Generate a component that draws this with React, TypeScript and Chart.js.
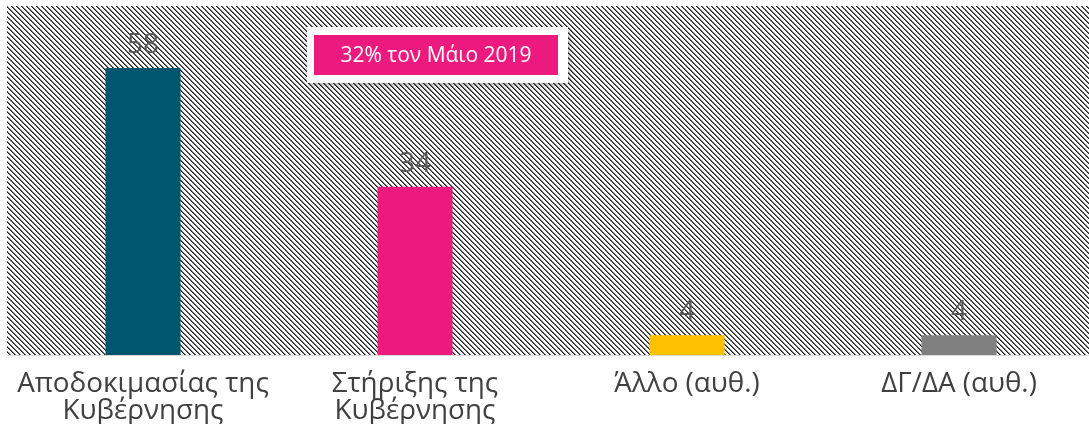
import React, { useEffect, useRef } from "react";
import { Chart, registerables } from "chart.js";

Chart.register(...registerables);

const categories: (string | string[])[] = [
  ["Αποδοκιμασίας της", "Κυβέρνησης"],
  ["Στήριξης της", "Κυβέρνησης"],
  "Άλλο (αυθ.)",
  "ΔΓ/ΔΑ (αυθ.)",
];
const values = [58, 34, 4, 4];
const barColors = ["#00566F", "#EC1A7F", "#FFC000", "#808080"];
const annotationText = "32% τον Μάιο 2019";
const yMin = 0;
const yMax = 70.5;

function makePattern(ctx: CanvasRenderingContext2D) {
  const p = document.createElement("canvas");
  const n = 5;
  p.width = n;
  p.height = n;
  const c = p.getContext("2d")!;
  c.fillStyle = "#ffffff";
  c.fillRect(0, 0, n, n);
  for (let i = 0; i < n; i++) {
    c.fillStyle = "#262626";
    c.fillRect(i, i, 1, 1);
    c.fillStyle = "#6e6e6e";
    c.fillRect((i + 1) % n, i, 1, 1);
  }
  return ctx.createPattern(p, "repeat")!;
}

const hatchPlugin = {
  id: "hatch",
  beforeDatasetsDraw(chart: any) {
    const { ctx, chartArea } = chart;
    ctx.save();
    ctx.fillStyle = makePattern(ctx);
    ctx.fillRect(chartArea.left, chartArea.top, chartArea.right - chartArea.left, chartArea.bottom - chartArea.top);
    ctx.restore();
  },
};

const valueLabelPlugin = {
  id: "valueLabels",
  afterDatasetsDraw(chart: any) {
    const { ctx } = chart;
    const meta = chart.getDatasetMeta(0);
    ctx.save();
    ctx.font = "28px 'Open Sans'";
    ctx.fillStyle = "#595959";
    ctx.textAlign = "center";
    ctx.textBaseline = "alphabetic";
    meta.data.forEach((el: any, i: number) => {
      ctx.fillText(String(values[i]), el.x, el.y - 15);
    });
    ctx.restore();
  },
};

const annotationPlugin = {
  id: "annotationBox",
  afterDraw(chart: any) {
    const { ctx } = chart;
    ctx.save();
    ctx.shadowColor = "rgba(0,0,0,0.35)";
    ctx.shadowBlur = 7;
    ctx.shadowOffsetX = 1;
    ctx.shadowOffsetY = 2;
    ctx.fillStyle = "#ffffff";
    ctx.fillRect(307, 27, 261, 56);
    ctx.shadowColor = "transparent";
    ctx.fillStyle = "#EC1A7F";
    ctx.fillRect(314, 35, 244, 40);
    ctx.fillStyle = "#ffffff";
    ctx.font = "21px 'Open Sans'";
    ctx.textAlign = "center";
    ctx.textBaseline = "middle";
    ctx.fillText(annotationText, 436, 56);
    ctx.restore();
  },
};

export default function App() {
  const ref = useRef<HTMLCanvasElement>(null);
  useEffect(() => {
    const chart = new Chart(ref.current!, {
      type: "bar",
      data: {
        labels: categories,
        datasets: [
          {
            data: values,
            backgroundColor: barColors,
            categoryPercentage: 1,
            barPercentage: 0.276,
          },
        ],
      },
      options: {
        responsive: false,
        animation: false,
        layout: { padding: { left: 7, top: 6, right: 5, bottom: 4 } },
        plugins: { legend: { display: false }, tooltip: { enabled: false } },
        scales: {
          x: {
            grid: { display: false, drawTicks: false },
            border: { display: true, color: "#d9d9d9", width: 1 },
            ticks: {
              color: "#404040",
              font: { family: "'Open Sans'", size: 27.8, lineHeight: 0.98 },
              padding: 15,
              maxRotation: 0,
              autoSkip: false,
            },
            afterFit(scale: any) {
              scale.height = 69;
            },
          },
          y: {
            display: false,
            min: yMin,
            max: yMax,
          },
        },
      },
      plugins: [hatchPlugin, valueLabelPlugin, annotationPlugin],
    });
    return () => chart.destroy();
  }, []);
  return (
    <div style={{ position: "absolute", left: 0, top: 0, width: 1089, height: 428, overflow: "hidden", background: "#fff" }}>
      <canvas ref={ref} width={1100} height={428} style={{ width: 1100, height: 428, display: "block" }} />
    </div>
  );
}
